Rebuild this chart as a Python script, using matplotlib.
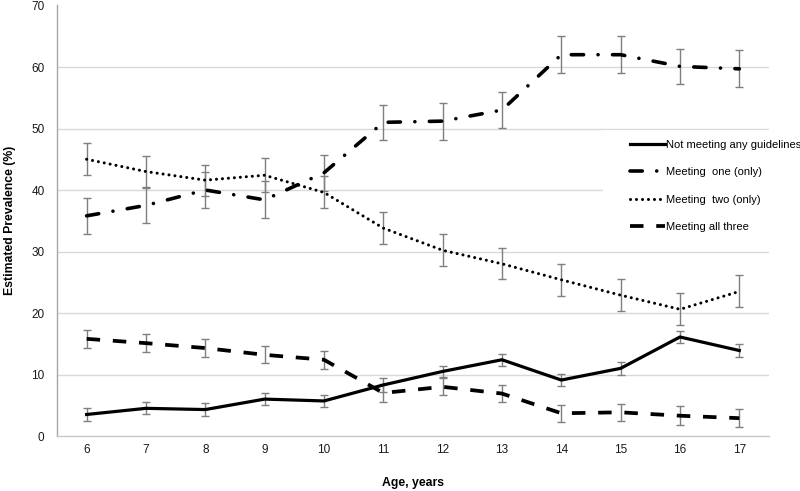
import matplotlib
matplotlib.use("Agg")
import matplotlib.pyplot as plt
from matplotlib.patches import Rectangle

plt.rcParams['font.family'] = ['Liberation Sans', 'DejaVu Sans']

ages = [6, 7, 8, 9, 10, 11, 12, 13, 14, 15, 16, 17]

none_vals = [3.5, 4.5, 4.3, 6.0, 5.7, 8.3, 10.5, 12.4, 9.1, 11.0, 16.1, 13.9]
none_err = [1.0, 1.0, 1.0, 1.0, 1.0, 1.1, 0.9, 1.0, 1.0, 1.0, 0.9, 1.0]

one_vals = [35.8, 37.5, 40.0, 38.4, 42.8, 51.0, 51.2, 53.0, 62.0, 62.0, 60.1, 59.7]
one_err = [2.9, 2.9, 3.0, 3.0, 2.9, 2.9, 3.0, 2.9, 3.0, 3.0, 2.9, 3.0]

two_vals = [45.0, 43.0, 41.6, 42.4, 39.6, 33.8, 30.2, 28.0, 25.4, 22.9, 20.6, 23.5]
two_err = [2.6, 2.5, 2.5, 2.8, 2.6, 2.6, 2.6, 2.5, 2.6, 2.6, 2.6, 2.6]

all_vals = [15.8, 15.1, 14.3, 13.2, 12.4, 7.0, 8.0, 6.9, 3.7, 3.85, 3.3, 2.9]
all_err = [1.5, 1.5, 1.5, 1.4, 1.5, 1.5, 1.4, 1.4, 1.4, 1.4, 1.5, 1.5]

labels = ["Not meeting any guidelines", "Meeting  one (only)",
          "Meeting  two (only)", "Meeting all three"]
yticks = [0, 10, 20, 30, 40, 50, 60, 70]

fig = plt.figure(figsize=(8, 4.91), dpi=100)
ax = fig.add_axes([0.0712, 0.112, 0.8900, 0.8768])

grid_c = '#d9d9d9'
for v in yticks[1:-1]:
    ax.axhline(v, color=grid_c, lw=1.0, zorder=0)

# white box behind legend (covers gridlines like the original)
fig.patches.append(Rectangle((603 / 800, 1 - 250 / 491), 1 - 603 / 800, 120 / 491,
                             transform=fig.transFigure, facecolor='white',
                             edgecolor='none', zorder=1))

series = [
    (none_vals, none_err, dict(linestyle='-', lw=2.3)),
    (one_vals, one_err, dict(linestyle=(0, (3.4, 4.0, 0.01, 4.0)), lw=2.6,
                             dash_capstyle='round')),
    (two_vals, two_err, dict(linestyle=(0, (0.01, 1.95)), lw=2.2, dash_capstyle='round')),
    (all_vals, all_err, dict(linestyle=(0, (3.6, 3.4)), lw=2.7)),
]

handles = []
for (vals, err, style), lab in zip(series, labels):
    ax.errorbar(ages, vals, yerr=err, fmt='none', ecolor='#7f7f7f',
                elinewidth=1.0, capsize=2.8, capthick=1.0, zorder=2)
    ln, = ax.plot(ages, vals, color='black', zorder=3, label=lab, **style)
    handles.append(ln)

ax.set_xlim(5.5, 17.5)
ax.set_ylim(0, 70)
ax.set_xticks(ages)
ax.set_xticklabels([str(a) for a in ages])
ax.set_yticks(yticks)
ax.tick_params(axis='both', length=0, labelsize=8.5, colors='#1a1a1a')
ax.tick_params(axis='x', pad=6)
ax.tick_params(axis='y', pad=9)

for s in ['top', 'right']:
    ax.spines[s].set_visible(False)
ax.spines['left'].set_color('#a6a6a6')
ax.spines['bottom'].set_color('#c8c8c8')
ax.spines['left'].set_linewidth(1.0)
ax.spines['bottom'].set_linewidth(1.0)

ax.set_ylabel('Estimated Prevalence (%)', fontsize=8.8, fontweight='bold', labelpad=11)
ax.set_xlabel('Age, years', fontsize=8.8, fontweight='bold', labelpad=15)

leg = fig.legend(handles=handles, labels=labels, loc='center left',
                 bbox_to_anchor=(630 / 800, 1 - 186 / 491), frameon=False, fontsize=8,
                 handlelength=3.15, handletextpad=0.1, labelspacing=1.58,
                 borderaxespad=0.0, borderpad=0.0)
leg.set_zorder(5)

fig.savefig('out.png', dpi=100)
